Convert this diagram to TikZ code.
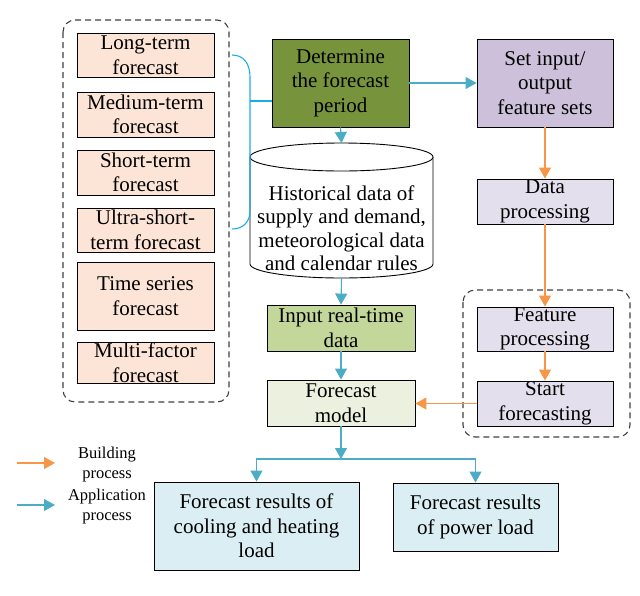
\documentclass[tikz,border=0pt]{standalone}
\usepackage{fontspec}
\setmainfont{Liberation Serif}
\usetikzlibrary{arrows.meta}

\definecolor{peach}{RGB}{252,228,214}
\definecolor{olive}{RGB}{119,147,60}
\definecolor{lavender}{RGB}{204,192,218}
\definecolor{palelav}{RGB}{228,223,236}
\definecolor{leaf}{RGB}{196,215,155}
\definecolor{paleleaf}{RGB}{235,241,222}
\definecolor{paleblue}{RGB}{219,238,243}
\definecolor{appblue}{RGB}{75,172,198}
\definecolor{brblue}{RGB}{25,172,235}
\definecolor{bldorange}{RGB}{247,150,70}
\definecolor{grpgray}{RGB}{64,64,64}

\tikzset{
	every picture/.style={line width=0.75pt},
	box/.style={draw=black, line width=0.9pt, align=center, inner sep=0pt, font=\fontsize{21}{24.5}\selectfont},
	leftbox/.style={box, fill=peach, minimum width=137pt},
	app/.style={draw=appblue, line width=1.1pt, -{Triangle[length=11pt,width=12pt]}},
	bld/.style={draw=bldorange, line width=1.1pt, -{Triangle[length=11pt,width=12pt]}},
	group/.style={draw=grpgray, dash pattern=on 6pt off 4pt, rounded corners=12pt, line width=1.1pt}
}

\begin{document}
\begin{tikzpicture}[x=1pt,y=1pt,yscale=-1]
	\useasboundingbox (0,0) rectangle (640,595);

	%Shape: Dashed groups
	\draw [group] (63,20) rectangle (229,402);
	\draw [group] (463,290) rectangle (630,437);

	%Left column
	\node [leftbox, minimum height=44pt] (long) at (145.5,55) {Long-term\\forecast};
	\node [leftbox, minimum height=45pt] (medium) at (145.5,114.5) {Medium-term\\forecast};
	\node [leftbox, minimum height=45pt] (short) at (145.5,172.5) {Short-term\\forecast};
	\node [leftbox, minimum height=44pt] (ultra) at (145.5,230) {Ultra-short-\\term forecast};
	\node [leftbox, minimum height=68pt] (timeser) at (145.5,296) {Time series\\forecast};
	\node [leftbox, minimum height=41pt] (multi) at (145.5,362.5) {Multi-factor\\forecast};

	%Middle column
	\node [box, fill=olive, minimum width=137pt, minimum height=88pt] (determine) at (340.5,83) {Determine\\the forecast\\period};
	%Shape: Cylinder
	\draw [line width=0.9pt, fill=white] (250,157) -- (250,264) arc[start angle=180, end angle=0, x radius=91.5, y radius=14] -- (433,157);
	\draw [line width=0.9pt, fill=white] (341.5,157) ellipse [x radius=91.5, y radius=14];
	\coordinate (histtop) at (341.5,143);
	\coordinate (histbot) at (341.5,278);
	\node [font=\fontsize{21}{23.5}\selectfont, align=center, inner sep=0pt] (hist) at (341.5,228) {Historical data of\\supply and demand,\\meteorological data\\and calendar rules};
	\node [box, fill=leaf, minimum width=148pt, minimum height=46pt] (input) at (341,328) {Input real-time\\data};
	\node [box, fill=paleleaf, minimum width=148pt, minimum height=46pt] (model) at (341,403) {Forecast\\model};
	\coordinate (junc) at (341,459);

	%Right column
	\node [box, fill=lavender, minimum width=136pt, minimum height=88pt] (setio) at (545,83) {Set input/\\output\\feature sets};
	\node [box, fill=palelav, minimum width=136pt, minimum height=45pt] (data) at (545,201.5) {Data\\processing};
	\node [box, fill=palelav, minimum width=136pt, minimum height=44pt] (feat) at (545,329) {Feature\\processing};
	\node [box, fill=palelav, minimum width=136pt, minimum height=45pt] (start) at (545,403.5) {Start\\forecasting};

	%Results
	\node [box, fill=paleblue, minimum width=205pt, minimum height=88pt] (cool) at (256.5,526) {Forecast results of\\cooling and heating\\load};
	\node [box, fill=paleblue, minimum width=165pt, minimum height=68pt] (power) at (475.5,517) {Forecast results\\of power load};

	%Bracket
	\coordinate (brtop) at (232,55);
	\coordinate (brbot) at (232,229);
	\coordinate (brmid) at (250,101);
	\draw [draw=brblue, line width=1.1pt] (brtop) .. controls (244,55) and (250,64) .. (250,77) -- (250,211) .. controls (250,221) and (244,229) .. (brbot);
	\draw [draw=brblue, line width=1.1pt] (brmid) -- (brmid -| determine.west);

	%Application arrows
	\draw [app] (determine.east) -- (setio.west);
	\draw [app] (determine.south) -- (histtop);
	\draw [app] (histbot) -- (input.north);
	\draw [app] (input.south) -- (model.north);
	\draw [app] (model.south) -- (junc);
	\draw [app] (junc) -| (cool.north);
	\draw [app] (junc) -| (power.north);

	%Building arrows
	\draw [bld] (setio.south) -- (data.north);
	\draw [bld] (data.south) -- (feat.north);
	\draw [bld] (feat.south) -- (start.north);
	\draw [bld] (start.west) -- (start.west -| model.east);

	%Legend
	\coordinate (lgb1) at (17,463);
	\coordinate (lgb2) at (55,463);
	\coordinate (lga1) at (17,505);
	\coordinate (lga2) at (55,505);
	\draw [bld] (lgb1) -- (lgb2);
	\draw [app] (lga1) -- (lga2);
	% Text Node
	\node [font=\fontsize{16.5}{20}\selectfont, align=center] (lgbuild) at (107,465) {Building\\process};
	% Text Node
	\node [font=\fontsize{16.5}{20}\selectfont, align=center] (lgapp) at (107,507) {Application\\process};

\end{tikzpicture}
\end{document}
